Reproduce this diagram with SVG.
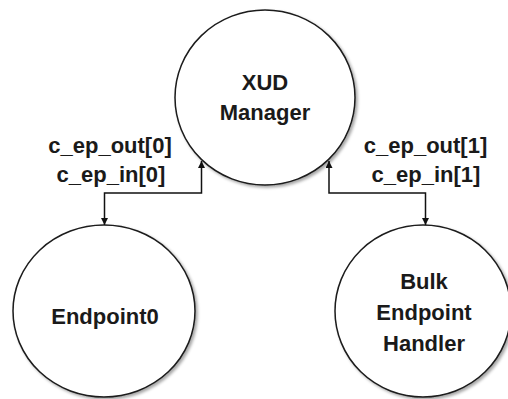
<svg xmlns="http://www.w3.org/2000/svg" width="508" height="399" viewBox="0 0 508 399">
<style>
.node{fill:#ffffff;stroke:#1a1a1a;stroke-width:1.5;filter:url(#sh)}
.lbl{font-family:"Liberation Sans",Arial,sans-serif;font-weight:bold;font-size:22px;fill:#1a1a1a;text-anchor:middle}
.con{fill:none;stroke:#111111;stroke-width:1.5}
</style>
<defs>
<filter id="sh" x="-10%" y="-10%" width="125%" height="125%">
<feDropShadow dx="2" dy="2" stdDeviation="1.5" flood-color="#000" flood-opacity="0.35"/>
</filter>
<marker id="ah" viewBox="0 0 10 10" refX="10" refY="5" markerWidth="7" markerHeight="7" markerUnits="userSpaceOnUse" orient="auto-start-reverse">
<path d="M0,0 L10,5 L0,10 z" fill="#111111"/>
</marker>
</defs>
<rect width="508" height="399" fill="#ffffff"/>
<g id="xud">
<ellipse class="node" cx="265" cy="97.5" rx="90" ry="87.5"/>
<text class="lbl" x="265" y="90">XUD</text>
<text class="lbl" x="265" y="120">Manager</text>
</g>
<g id="endpoint0">
<ellipse class="node" cx="104" cy="311" rx="91" ry="86"/>
<text class="lbl" x="105" y="324">Endpoint0</text>
</g>
<g id="bulk">
<ellipse class="node" cx="423" cy="311" rx="88" ry="86"/>
<text class="lbl" x="424" y="289">Bulk</text>
<text class="lbl" x="424" y="320">Endpoint</text>
<text class="lbl" x="424" y="351">Handler</text>
</g>
<g id="connectors">
<path class="con" d="M201.5,161 L201.5,193 L104.5,193 L104.5,225" marker-start="url(#ah)" marker-end="url(#ah)"/>
<path class="con" d="M329,161 L329,193 L425.5,193 L425.5,225" marker-start="url(#ah)" marker-end="url(#ah)"/>
<text class="lbl" x="110" y="153">c_ep_out[0]</text>
<text class="lbl" x="111" y="182">c_ep_in[0]</text>
<text class="lbl" x="425.5" y="153">c_ep_out[1]</text>
<text class="lbl" x="426" y="182">c_ep_in[1]</text>
</g>
</svg>
